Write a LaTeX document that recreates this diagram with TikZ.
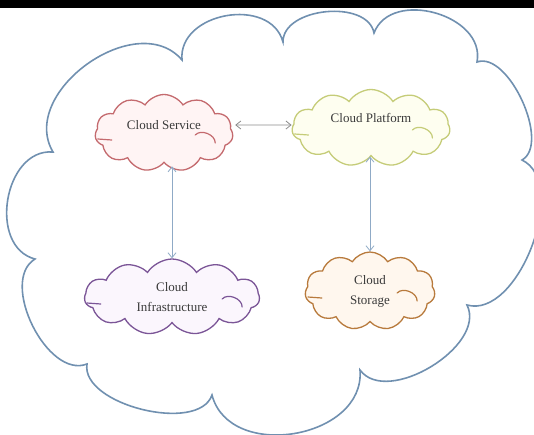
\documentclass[tikz,border=0pt]{standalone}
\usepackage{fontspec}
\setmainfont{Liberation Serif}
\usetikzlibrary{arrows,arrows.meta,shapes,backgrounds,calc}

\definecolor{skyline}{HTML}{7090B0}
\definecolor{serviceline}{HTML}{C46A6E}
\definecolor{servicefill}{HTML}{FFF4F4}
\definecolor{platformline}{HTML}{C5CC78}
\definecolor{platformfill}{HTML}{FEFEF0}
\definecolor{infraline}{HTML}{7B5597}
\definecolor{infrafill}{HTML}{FBF6FD}
\definecolor{storageline}{HTML}{B87A3C}
\definecolor{storagefill}{HTML}{FFF7EE}
\definecolor{linkgray}{HTML}{8C8C8C}
\definecolor{linkblue}{HTML}{8FAAC6}
\definecolor{textgray}{HTML}{3A3A3A}

\begin{document}
\begin{tikzpicture}[x=1pt,y=-1pt,
    every node/.style={font=\fontsize{13}{20}\selectfont, text=textgray},
    puff/.style={cloud, cloud puffs=11, cloud puff arc=115, aspect=2,
      draw, line width=1.3pt, inner sep=0pt, align=center},
    lobe/.style={bend left=85, looseness=#1},
    link/.style={{Straight Barb[length=5pt,width=8pt]}-{Straight Barb[length=5pt,width=8pt]},
      line width=0.8pt}]
      \useasboundingbox (0,0) rectangle (534,434);
      \fill [black] (0,0) rectangle (534,8);
      \def\lobes{
        \coordinate (k1) at (53,152);
        \coordinate (k2) at (182,60);
        \coordinate (k3) at (283,42);
        \coordinate (k4) at (374,33);
        \coordinate (k5) at (477,62);
        \coordinate (k6) at (522,160);
        \coordinate (k7) at (467,305);
        \coordinate (k8) at (360,370);
        \coordinate (k9) at (212,395);
        \coordinate (k10) at (87,364);
        \coordinate (k11) at (35,259);
      }
      \def\showSky{
        % Draw the big cloud
        \draw [skyline, line width=1.6pt, fill=white]
          (k1) to[lobe=1.12] (k2) to[lobe=1.2] (k3) to[lobe=0.97] (k4)
          to[lobe=1.15] (k5) to[lobe=0.79] (k6) to[lobe=0.88] (k7)
          to[lobe=0.93] (k8) to[lobe=1.18] (k9) to[lobe=0.82] (k10)
          to[lobe=0.93] (k11) to[lobe=1.16] (k1) -- cycle;
      }
      \def\showClouds{
        \node [puff, draw=serviceline, fill=servicefill, minimum width=138pt,
          minimum height=77pt, text depth=16pt] (service) at (164,133) {Cloud Service};
        \node [puff, draw=platformline, fill=platformfill, minimum width=158pt,
          minimum height=77pt, text depth=20pt] (platform) at (371,128) {Cloud Platform};
        \node [puff, draw=infraline, fill=infrafill, minimum width=175pt,
          minimum height=76pt] (infra) at (172,297) {Cloud\\Infrastructure};
        \node [puff, draw=storageline, fill=storagefill, minimum width=130pt,
          minimum height=78pt] (storage) at (370,291) {Cloud\\Storage};
        % Draw the inner hooks
        \foreach \c/\col in {service/serviceline, platform/platformline,
                             infra/infraline, storage/storageline} {
          \draw [\col, line width=1.2pt, line cap=round]
            ($ (\c.west)+(3,6) $) -- ($ (\c.west)+(17,7) $);
          \draw [\col, line width=1.2pt, line cap=round]
            ($ (\c.east)+(-38,2) $) to[bend left=70] ($ (\c.east)+(-18,10) $);
        }
      }
      \def\showLinks{
        % Draw the arrows between the clouds
        \draw [link, linkgray] ($ (service.east)+(2,-8) $) -- ($ (platform.west)+(0,-3) $);
        \draw [link, linkblue] ($ (infra.north |- service.south)+(0,3) $) -- (infra.north);
        \draw [link, linkblue] (storage.north |- platform.south) -- (storage.north);
      }
      \lobes
      \showSky
      \showClouds
      \showLinks
    \end{tikzpicture}
\end{document}
